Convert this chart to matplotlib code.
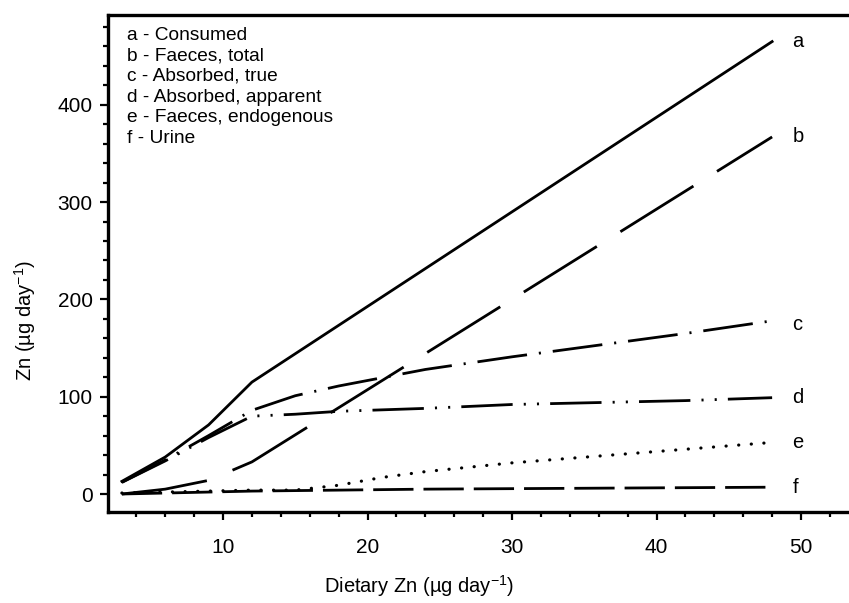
import matplotlib
matplotlib.use('Agg')
import matplotlib.pyplot as plt
from matplotlib.ticker import MultipleLocator

plt.rcParams['font.family'] = ['Liberation Sans', 'DejaVu Sans']
plt.rcParams['mathtext.fontset'] = 'custom'
plt.rcParams['mathtext.rm'] = 'Liberation Sans'
plt.rcParams['mathtext.it'] = 'Liberation Sans:italic'
plt.rcParams['lines.scale_dashes'] = False

# datos
x_a = [3, 6, 9, 12, 48]
consumido = [13, 38, 71, 115, 465]

x_b = [3, 6, 9, 12, 48]
heces_total = [0, 5, 14, 33, 367]

x_cd = [3, 6, 9, 12, 15, 18, 24, 30, 36, 42, 48]
absorbido_real = [12, 35, 60, 86, 101, 111, 128, 141, 153, 165, 178]
absorbido_aparente = [12, 34, 58, 80, 82, 85, 88, 92, 94, 96, 99]

x_e = [3, 6, 9, 12, 15, 18, 21, 24, 30, 36, 42, 48]
heces_endogenas = [1, 2, 3, 4, 4, 9, 17, 23, 32, 39, 46, 53]

x_f = [3, 12, 24, 36, 48]
orina = [0, 3, 5, 6, 7]

letras = ['a', 'b', 'c', 'd', 'e', 'f']
leyenda = ['a - Consumed', 'b - Faeces, total', 'c - Absorbed, true',
           'd - Absorbed, apparent', 'e - Faeces, endogenous', 'f - Urine']

fig = plt.figure(figsize=(8.49, 6.03), dpi=100)
ax = fig.add_axes([0.1272, 0.1509, 0.8728, 0.8242])

lw = 2.0
series = [
    (x_a, consumido, '-'),
    (x_b, heces_total, (0, (62, 20))),
    (x_cd, absorbido_real, (0, (36, 8.6, 1.5, 8.6))),
    (x_cd, absorbido_aparente, (0, (37, 8, 1.5, 8, 1.5, 8))),
    (x_e, heces_endogenas, (0, (0.1, 9))),
    (x_f, orina, (0, (29, 7.2))),
]
for (xs, ys, estilo), letra in zip(series, letras):
    linea, = ax.plot(xs, ys, color='black', lw=lw, linestyle=estilo)
    if letra == 'e':
        linea.set_dash_capstyle('round')
        linea.set_linewidth(2.3)
    dy = -4 if letra == 'c' else 0
    ax.text(49.4, ys[-1] + dy, letra, fontsize=14.5, va='center', ha='left')

ax.set_xlim(2.04, 53.32)
ax.set_ylim(-18.5, 492.3)
ax.xaxis.set_major_locator(MultipleLocator(10))
ax.xaxis.set_minor_locator(MultipleLocator(2))
ax.yaxis.set_major_locator(MultipleLocator(100))
ax.yaxis.set_minor_locator(MultipleLocator(20))

ax.spines['right'].set_visible(False)
for lado in ['left', 'bottom', 'top']:
    ax.spines[lado].set_linewidth(2.4)

ax.tick_params(which='major', direction='out', length=6, width=1.6, labelsize=15)
ax.tick_params(axis='x', which='major', pad=13)
ax.tick_params(axis='y', which='major', pad=5)
ax.tick_params(which='minor', direction='out', length=3.6, width=1.6)

# leyenda como texto
for i, t in enumerate(leyenda):
    fig.text(127 / 849, 1 - (35 + 20.7 * i) / 603, t, fontsize=13.8, va='center', ha='left')

fig.text(419 / 849, 1 - 586 / 603, r'Dietary Zn (µg day$^{-1}$)', fontsize=14.5,
         ha='center', va='center')
fig.text(25 / 849, 1 - 321 / 603, r'Zn (µg day$^{-1}$)', fontsize=14.5,
         ha='center', va='center', rotation=90)

fig.savefig('out.png', dpi=100)
